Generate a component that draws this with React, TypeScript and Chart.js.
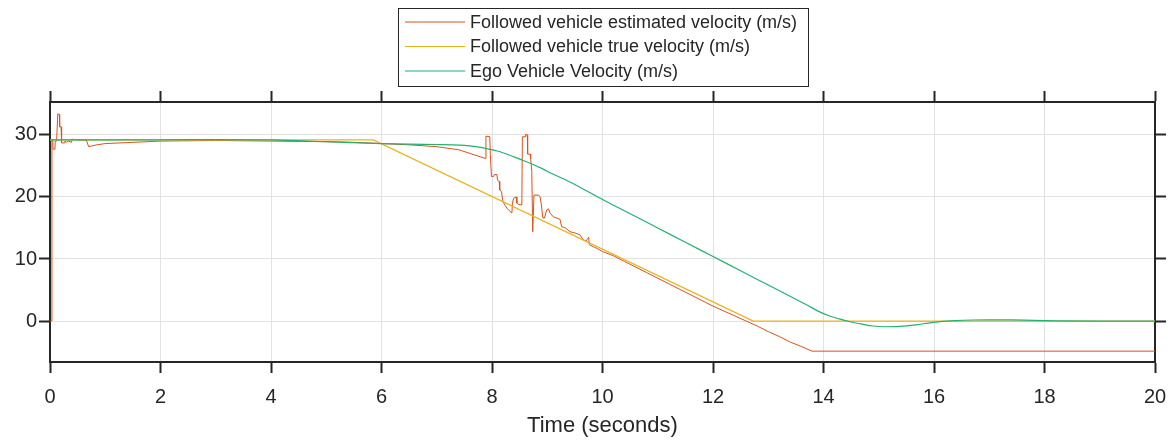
import React, { useEffect, useRef } from "react";
import { Chart, registerables } from "chart.js";

Chart.register(...registerables);

const timeTicks = [0, 2, 4, 6, 8, 10, 12, 14, 16, 18, 20];
const velocityTicks = [0, 10, 20, 30];
const seriesLabels = [
  "Followed vehicle estimated velocity (m/s)",
  "Followed vehicle true velocity (m/s)",
  "Ego Vehicle Velocity (m/s)",
];
const seriesColors = ["#D95319", "#EDB120", "#21B26F"];

const estTime = [
  0, 0.03, 0.035, 0.05, 0.055, 0.09, 0.095, 0.12, 0.14, 0.17, 0.175, 0.2, 0.21, 0.26, 0.27, 0.3, 0.33, 0.39, 0.4,
  0.5, 0.66, 0.7, 0.75, 0.85, 1.0, 1.5, 2.0, 3, 4, 5, 5.5, 6, 6.5, 7, 7.4, 7.88, 7.89, 7.96, 7.97, 7.99, 8.03,
  8.04, 8.09, 8.1, 8.13, 8.14, 8.17, 8.2, 8.24, 8.27, 8.31, 8.36, 8.37, 8.39, 8.44, 8.45, 8.48, 8.54, 8.55,
  8.6, 8.61, 8.64, 8.645, 8.69, 8.7, 8.72, 8.737, 8.76, 8.84, 8.87, 8.89, 8.92, 8.95, 8.99, 9.02, 9.05, 9.11,
  9.23, 9.26, 9.33, 9.41, 9.5, 9.59, 9.65, 9.7, 9.75, 9.76, 9.9, 10.0, 10.2, 10.4, 10.6, 10.8, 11.0, 11.2,
  11.4, 11.6, 11.8, 12.0, 12.2, 12.4, 12.6, 12.8, 13.0, 13.2, 13.4, 13.6, 13.79, 20,
];
const estVel = [
  0, 0, 29.2, 29.2, 27.7, 27.7, 29.0, 29.0, 33.4, 33.3, 31.3, 31.3, 28.7, 28.7, 29.0, 28.8, 29.0, 28.8, 29.3,
  29.2, 29.1, 28.1, 28.2, 28.4, 28.6, 28.8, 29.0, 29.1, 29.0, 28.9, 28.8, 28.6, 28.4, 28.1, 27.6, 26.2, 29.8,
  29.7, 26.8, 23.3, 23.3, 23.6, 23.6, 22.7, 22.5, 21.1, 20.9, 19.2, 18.6, 18.2, 17.8, 17.4, 19.0, 19.8, 20.0,
  19.0, 18.8, 18.7, 29.7, 29.7, 30.1, 30.0, 26.9, 26.9, 26.2, 24.1, 14.4, 20.3, 20.3, 20.0, 19.0, 16.6, 16.6,
  17.9, 18.1, 17.4, 16.8, 16.4, 15.2, 15.0, 14.4, 14.2, 13.9, 13.1, 12.9, 13.5, 12.3, 11.7, 11.2, 10.5, 9.6,
  8.7, 7.8, 6.9, 6.0, 5.1, 4.2, 3.3, 2.4, 1.6, 0.8, 0.0, -0.8, -1.7, -2.5, -3.4, -4.1, -4.85, -4.85,
];

const trueTime = [0, 5.85, 12.73, 20];
const trueVel = [29.2, 29.2, 0, 0];

const egoTime = [
  0, 1, 2, 3, 4, 5, 6, 6.5, 7, 7.3, 7.5, 7.7, 7.9, 8.1, 8.3, 8.5, 8.7, 8.9, 9.1, 9.3, 9.5, 9.75, 10, 10.5, 11,
  11.5, 12, 12.5, 13, 13.5, 13.7, 13.9, 14.1, 14.3, 14.5, 14.7, 14.9, 15.1, 15.3, 15.5, 15.7, 15.9, 16.1, 16.4,
  16.7, 17, 17.4, 17.8, 18.2, 19, 20,
];
const egoVel = [
  29.2, 29.2, 29.2, 29.25, 29.2, 28.9, 28.6, 28.5, 28.45, 28.4, 28.3, 28.1, 27.8, 27.4, 26.8, 26.1, 25.4, 24.6,
  23.7, 22.9, 22.0, 20.8, 19.6, 17.3, 15.0, 12.7, 10.4, 8.1, 5.8, 3.5, 2.6, 1.6, 0.85, 0.3, -0.15, -0.5, -0.8,
  -0.92, -0.9, -0.78, -0.58, -0.33, -0.1, 0.08, 0.17, 0.2, 0.18, 0.1, 0.04, 0.0, 0.0,
];

const yMin = -6.6;
const yMax = 35.3;
const FONT = "'Liberation Sans', Arial, Helvetica, sans-serif";
const AXIS = "#262626";
const GRID = "#e2e2e2";

const toPoints = (xs: number[], ys: number[]) => xs.map((x, i) => ({ x, y: ys[i] }));

const legendPlugin = {
  id: "boxLegend",
  afterDraw(chart: any) {
    const ctx = chart.ctx as CanvasRenderingContext2D;
    ctx.save();
    const bx = 398.5, by = 8.5, bw = 410, bh = 78;
    ctx.fillStyle = "#ffffff";
    ctx.fillRect(bx, by, bw, bh);
    ctx.strokeStyle = AXIS;
    ctx.lineWidth = 1;
    ctx.strokeRect(bx, by, bw, bh);
    ctx.font = `18px ${FONT}`;
    ctx.textBaseline = "middle";
    ctx.textAlign = "left";
    chart.data.datasets.forEach((ds: any, i: number) => {
      const y = 22 + i * 24.5;
      ctx.strokeStyle = ds.borderColor;
      ctx.lineWidth = 1.2;
      ctx.beginPath();
      ctx.moveTo(405, y);
      ctx.lineTo(465, y);
      ctx.stroke();
      ctx.fillStyle = AXIS;
      ctx.fillText(ds.label, 470, y + 1);
    });
    ctx.restore();
  },
};

export default function App() {
  const ref = useRef<HTMLCanvasElement | null>(null);

  useEffect(() => {
    document.body.style.margin = "0";
    if (!ref.current) return;
    const fixTicks = (vals: number[]) => (scale: any) => {
      scale.ticks = vals.map((v) => ({ value: v }));
    };
    const fitH = (h: number) => (s: any) => {
      s.height = h;
      s.paddingLeft = 0;
      s.paddingRight = 0;
    };
    const fitW = (w: number) => (s: any) => {
      s.width = w;
      s.paddingTop = 0;
      s.paddingBottom = 0;
    };
    const chart = new Chart(ref.current, {
      type: "line",
      data: {
        datasets: [
          {
            label: seriesLabels[0],
            data: toPoints(estTime, estVel),
            borderColor: seriesColors[0],
            borderWidth: 1,
            pointRadius: 0,
            tension: 0,
            order: 3,
            xAxisID: "x",
            yAxisID: "y",
          },
          {
            label: seriesLabels[1],
            data: toPoints(trueTime, trueVel),
            borderColor: seriesColors[1],
            borderWidth: 1.2,
            pointRadius: 0,
            tension: 0,
            order: 2,
            xAxisID: "x",
            yAxisID: "y",
          },
          {
            label: seriesLabels[2],
            data: toPoints(egoTime, egoVel),
            borderColor: seriesColors[2],
            borderWidth: 1.2,
            pointRadius: 0,
            cubicInterpolationMode: "monotone",
            order: 1,
            xAxisID: "x",
            yAxisID: "y",
          },
        ],
      },
      options: {
        responsive: false,
        animation: false,
        events: [],
        layout: { padding: 0 },
        plugins: { legend: { display: false }, tooltip: { enabled: false }, title: { display: false } },
        scales: {
          x: {
            type: "linear",
            position: "bottom",
            min: 0,
            max: 20,
            afterBuildTicks: fixTicks(timeTicks),
            afterFit: fitH(82),
            border: { color: AXIS, width: 2 },
            grid: { color: GRID, lineWidth: 1, drawTicks: true, tickLength: 11, tickColor: AXIS, tickWidth: 2 },
            ticks: { color: AXIS, font: { family: FONT, size: 20 }, padding: 12, maxRotation: 0 },
            title: {
              display: true,
              text: "Time (seconds)",
              color: AXIS,
              font: { family: FONT, size: 22 },
              padding: { top: 0, bottom: 5 },
            },
          },
          x2: {
            type: "linear",
            position: "top",
            min: 0,
            max: 20,
            afterBuildTicks: fixTicks(timeTicks),
            afterFit: fitH(102),
            border: { color: AXIS, width: 2 },
            grid: { drawOnChartArea: false, drawTicks: true, tickLength: 11, tickColor: AXIS, tickWidth: 2 },
            ticks: { color: "rgba(0,0,0,0)", font: { family: FONT, size: 20 } },
          },
          y: {
            type: "linear",
            position: "left",
            min: yMin,
            max: yMax,
            afterBuildTicks: fixTicks(velocityTicks),
            afterFit: fitW(50),
            border: { color: AXIS, width: 2 },
            grid: { color: GRID, lineWidth: 1, drawTicks: true, tickLength: 11, tickColor: AXIS, tickWidth: 2 },
            ticks: { color: AXIS, font: { family: FONT, size: 20 }, padding: 2 },
          },
          y2: {
            type: "linear",
            position: "right",
            min: yMin,
            max: yMax,
            afterBuildTicks: fixTicks(velocityTicks),
            afterFit: fitW(19),
            border: { color: AXIS, width: 2 },
            grid: { drawOnChartArea: false, drawTicks: true, tickLength: 11, tickColor: AXIS, tickWidth: 2 },
            ticks: { color: "rgba(0,0,0,0)", font: { family: FONT, size: 20 } },
          },
        },
      },
      plugins: [legendPlugin],
    } as any);
    return () => chart.destroy();
  }, []);

  return (
    <div style={{ position: "absolute", left: 0, top: 0 }}>
      <canvas ref={ref} width={1174} height={444} style={{ display: "block" }} />
    </div>
  );
}
